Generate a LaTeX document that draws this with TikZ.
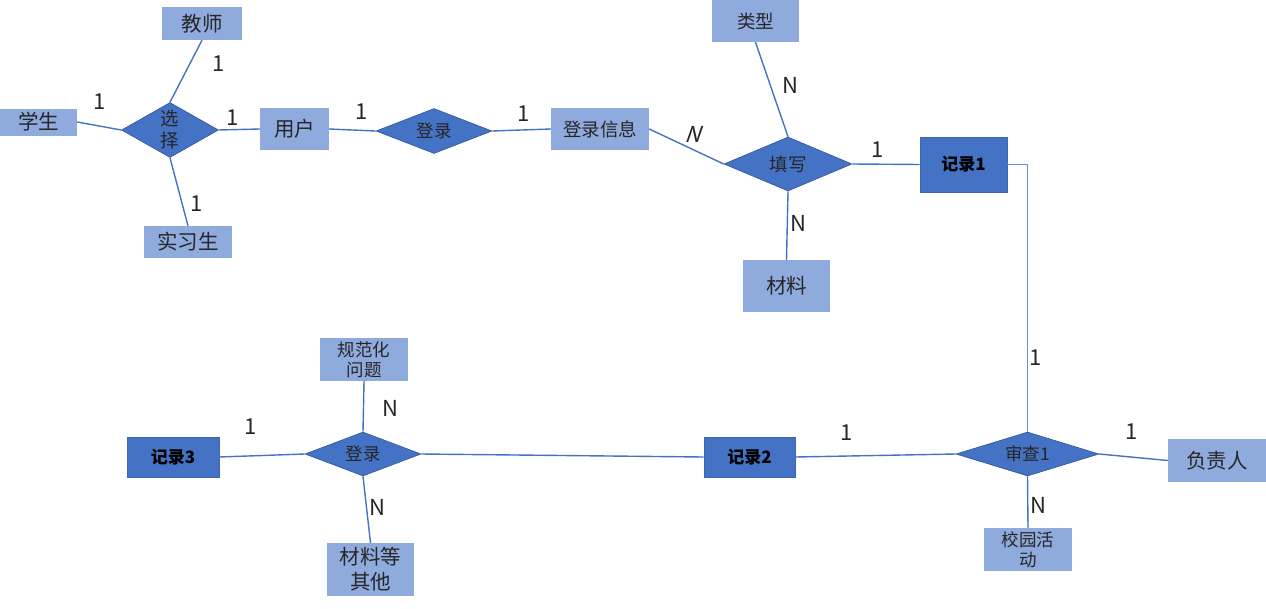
\documentclass[tikz,border=0pt]{standalone}
\usepackage{fontspec}
\setmainfont{Noto Sans CJK SC}
\usetikzlibrary{shapes.geometric}
\definecolor{light}{HTML}{8FAADC}
\definecolor{dark}{HTML}{4472C4}
\definecolor{edge}{HTML}{2F5597}
\definecolor{ln}{HTML}{4472C4}
\begin{document}
\begin{tikzpicture}[x=1pt,y=-1pt,
  ent/.style={rectangle,fill=light,inner sep=0pt,align=center,text=black!85,font=\fontsize{20.5}{22}\selectfont},
  dent/.style={rectangle,fill=dark,draw=dark!90!black,line width=0.6pt,inner sep=0pt,align=center,text=black,font=\fontsize{17}{19}\selectfont\bfseries},
  rel/.style={diamond,fill=dark,draw=edge,line width=0.6pt,inner sep=0pt,aspect=2},
  rtxt/.style={align=center,text=black!85,font=\fontsize{17.5}{20}\selectfont},
  conn/.style={draw=ln,line width=1.4pt},
  thin/.style={draw=ln!80,line width=0.8pt},
  card/.style={text=black!85,font=\fontsize{22}{24}\selectfont,inner sep=0pt}]
\useasboundingbox (0,0) rectangle (1266,608);
% entities
\node[ent,minimum width=80,minimum height=33] (teacher) at (202,23.5) {教师};
\node[ent,minimum width=77,minimum height=27] (student) at (38.5,122) {学生};
\node[ent,minimum width=88,minimum height=32] (intern) at (188,242) {实习生};
\node[ent,minimum width=69,minimum height=42] (user) at (294.5,129) {用户};
\node[ent,minimum width=98,minimum height=42,font=\fontsize{18.5}{20}\selectfont] (info) at (600,129) {登录信息};
\node[ent,minimum width=87,minimum height=42,font=\fontsize{18.5}{20}\selectfont] (type) at (755.5,21) {类型};
\node[ent,minimum width=87,minimum height=52] (mat) at (786.5,286) {材料};
\node[dent,minimum width=87,minimum height=55] (r1) at (963.5,164.5) {记录1};
\node[dent,minimum width=91,minimum height=40] (r2) at (749.5,457) {记录2};
\node[dent,minimum width=92,minimum height=40] (r3) at (173,457) {记录3};
\node[ent,minimum width=98,minimum height=43] (boss) at (1217,460.5) {负责人};
\node[ent,minimum width=88,minimum height=43,font=\fontsize{17.5}{20}\selectfont] (act) at (1028,549.5) {校园活\\动};
\node[ent,minimum width=88,minimum height=43,font=\fontsize{17.5}{20}\selectfont] (norm) at (364,359.5) {规范化\\问题};
\node[ent,minimum width=87,minimum height=53,font=\fontsize{20.5}{25}\selectfont] (other) at (370.5,569.5) {材料等\\其他};
% relationships
\node[rel,minimum width=97,minimum height=55] (sel) at (170,130) {};
\node[rtxt,font=\fontsize{18.5}{22}\selectfont] at (sel) {选\\择};
\node[rel,minimum width=116,minimum height=45] (login) at (434,131) {};
\node[rtxt] at (login) {登录};
\node[rel,minimum width=128,minimum height=54] (fill) at (788,164) {};
\node[rtxt,font=\fontsize{18.5}{20}\selectfont] at (fill) {填写};
\node[rel,minimum width=143,minimum height=44] (audit) at (1027.5,454) {};
\node[rtxt] at (audit) {审查1};
\node[rel,minimum width=116,minimum height=44] (login2) at (363,454) {};
\node[rtxt] at (login2) {登录};
% connectors
\draw[conn] (teacher.south) -- (sel.north);
\draw[conn] (student.east) -- (sel.west);
\draw[conn] (intern.north) -- (sel.south);
\draw[conn] (sel.east) -- (user.west);
\draw[conn] (user.east) -- (login.west);
\draw[conn] (login.east) -- (info.west);
\draw[conn] (info.east) -- (fill.west);
\draw[conn] (type.south) -- (fill.north);
\draw[conn] (fill.south) -- (mat.north);
\draw[conn] (fill.east) -- (r1.west);
\draw[thin] (r1.east) -| (audit.north);
\draw[conn] (audit.west) -- (r2.east);
\draw[conn] (audit.east) -- (boss.west);
\draw[conn] (audit.south) -- (act.north);
\draw[conn] (r2.west) -- (login2.east);
\draw[conn] (login2.west) -- (r3.east);
\draw[conn] (login2.north) -- (norm.south);
\draw[conn] (login2.south) -- (other.north);
% cardinalities
\node[card] (c1) at (219,64) {1};
\node[card] (c2) at (100,102) {1};
\node[card] (c3) at (233,118) {1};
\node[card] (c4) at (197,204) {1};
\node[card] (c5) at (362,112) {1};
\node[card] (c6) at (524,114) {1};
\node[card,xslant=0.35] (c7) at (695,134) {N};
\node[card] (c8) at (790,85) {N};
\node[card] (c9) at (798,223) {N};
\node[card] (c10) at (878,150) {1};
\node[card] (c11) at (1036,358) {1};
\node[card] (c12) at (1132,432) {1};
\node[card] (c13) at (847,433) {1};
\node[card] (c14) at (390,408) {N};
\node[card] (c15) at (377,507) {N};
\node[card] (c16) at (251,427) {1};
\node[card] (c17) at (1038,505) {N};
\end{tikzpicture}
\end{document}
